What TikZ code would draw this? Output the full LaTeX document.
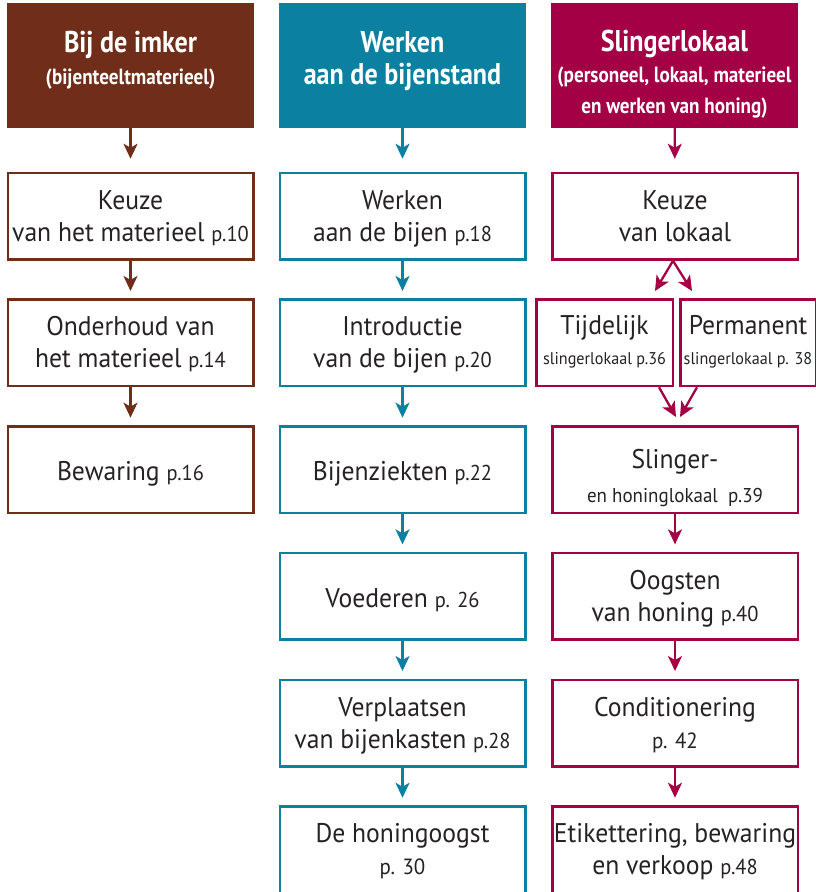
\documentclass[tikz,border=0pt]{standalone}
\usepackage{fontspec}
\setmainfont[FakeStretch=0.95]{PT Sans}
\newfontfamily\hdfont[FakeStretch=0.87]{PT Sans}
\usetikzlibrary{arrows.meta,calc}
\definecolor{cbrown}{RGB}{112,45,26}
\definecolor{cteal}{RGB}{12,128,160}
\definecolor{cmag}{RGB}{163,0,70}
\definecolor{ctext}{RGB}{38,34,35}
\newcommand\fsz[2]{\fontsize{#1}{#2}\selectfont}
\newcommand\pgr[1]{{\fsz{21.5}{32}#1}}
\newcommand\twol[2]{\rule{0pt}{25pt}#1\\#2\rule[-7pt]{0pt}{7pt}}
\newcommand\onel[1]{\rule{0pt}{29.5pt}#1\rule[-7pt]{0pt}{7pt}}
\tikzset{
  box/.style={draw=#1, line width=2.5pt, fill=white, minimum width=245.5pt,
    minimum height=86.5pt, inner sep=0pt, align=center, text=ctext,
    font=\fsz{27}{32}},
  hdr/.style={fill=#1, minimum width=247pt, minimum height=124.5pt, inner sep=0pt},
  htext/.style={text=white, align=center, inner sep=0pt, anchor=north,
    font=\hdfont\bfseries\fsz{30}{32}},
  arr/.style={draw=#1, line width=2.3pt,
    -{Stealth[length=15pt,width=14pt,inset=4pt]}, shorten >=7.5pt},
  harr/.style={arr=#1, shorten >=13pt},
}
\begin{document}
\begin{tikzpicture}[x=1pt,y=-1pt]
\useasboundingbox (0,0) rectangle (816,892);
\fill[white] (0,0) rectangle (816,892);

% headers
\node[hdr=cbrown] (h1) at (130.5,65.25) {};
\node[hdr=cteal] (h2) at (402.5,65.25) {};
\node[hdr=cmag] (h3) at (674.5,65.25) {};
\node[htext] (h1t) at (130.5,3) {\rule{0pt}{49pt}Bij de imker\\{\fsz{22}{32}(bijenteeltmaterieel)}};
\node[htext] (h2t) at (402.5,3) {\rule{0pt}{49pt}Werken\\aan de bijenstand};
\node[htext, font=\hdfont\bfseries\fsz{30}{31}] (h3t) at (674.5,3) {\rule{0pt}{48pt}Slingerlokaal\\{\fsz{22}{31}(personeel, lokaal, materieel}\\{\fsz{22}{31}en werken van honing)}};

% column 1
\node[box=cbrown] (b11) at (130.5,216.25) {\twol{Keuze}{van het materieel \pgr{p.10}}};
\node[box=cbrown] (b12) at (130.5,342.95) {\twol{Onderhoud van}{het materieel \pgr{p.14}}};
\node[box=cbrown] (b13) at (130.5,469.65) {\onel{Bewaring \pgr{p.16}}};

% column 2
\node[box=cteal] (b21) at (402.5,216.25) {\twol{Werken}{aan de bijen \pgr{p.18}}};
\node[box=cteal] (b22) at (402.5,342.95) {\twol{Introductie}{van de bijen \pgr{p.20}}};
\node[box=cteal] (b23) at (402.5,469.65) {\onel{Bijenziekten \pgr{p.22}}};
\node[box=cteal] (b24) at (402.5,596.35) {\onel{Voederen \pgr{p. 26}}};
\node[box=cteal] (b25) at (402.5,723.05) {\twol{Verplaatsen}{van bijenkasten \pgr{p.28}}};
\node[box=cteal] (b26) at (402.5,849.75) {\twol{De honingoogst}{{\fsz{22}{32}p. 30}}};

% column 3
\node[box=cmag] (b31) at (675,216.25) {\twol{Keuze}{van lokaal}};
\node[box=cmag, minimum width=136.5pt, minimum height=86.3pt, font=\fsz{27}{30}] (tij) at (604.5,342.85)
  {\rule{0pt}{21pt}Tijdelijk\\{\fsz{17}{30}slingerlokaal p.36}\rule[-7pt]{0pt}{7pt}};
\node[box=cmag, minimum width=135.5pt, minimum height=86.3pt, font=\fsz{27}{30}] (per) at (748,342.85)
  {\rule{0pt}{21pt}Permanent\\{\fsz{17}{30}slingerlokaal p. 38}\rule[-7pt]{0pt}{7pt}};
\node[box=cmag, font=\fsz{27}{34}] (b33) at (675,469.65)
  {\rule{0pt}{37.8pt}Slinger-\\{\fsz{20}{34}en honinglokaal\ \ p.39}\rule[-7pt]{0pt}{7pt}};
\node[box=cmag] (b34) at (675,596.35) {\twol{Oogsten}{van honing \pgr{p.40}}};
\node[box=cmag] (b35) at (675,723.05) {\twol{Conditionering}{{\fsz{22}{32}p. 42}}};
\node[box=cmag] (b36) at (675,849.75) {\twol{Etikettering, bewaring}{en verkoop \pgr{p.48}}};

% arrows column 1
\draw[harr=cbrown] (h1) -- (b11);
\draw[arr=cbrown] (b11) -- (b12);
\draw[arr=cbrown] (b12) -- (b13);
% arrows column 2
\draw[harr=cteal] (h2) -- (b21);
\draw[arr=cteal] (b21) -- (b22);
\draw[arr=cteal] (b22) -- (b23);
\draw[arr=cteal] (b23) -- (b24);
\draw[arr=cteal] (b24) -- (b25);
\draw[arr=cteal] (b25) -- (b26);
% arrows column 3
\draw[harr=cmag] (h3) -- (b31);
\coordinate (f1) at (655,291);
\coordinate (f2) at (692,291);
\coordinate (m1) at (676,417);
\coordinate (m2) at (680,417);
\draw[arr=cmag, shorten >=0pt] ($(b31.south)+(-2,0)$) -- (f1);
\draw[arr=cmag, shorten >=0pt] ($(b31.south)+(-2,0)$) -- (f2);
\draw[arr=cmag, shorten >=0pt] ($(tij.south east)+(-15,0)$) -- (m1);
\draw[arr=cmag, shorten >=0pt] ($(per.south west)+(18,0)$) -- (m2);
\draw[arr=cmag] (b33) -- (b34);
\draw[arr=cmag] (b34) -- (b35);
\draw[arr=cmag] (b35) -- (b36);
\end{tikzpicture}
\end{document}
